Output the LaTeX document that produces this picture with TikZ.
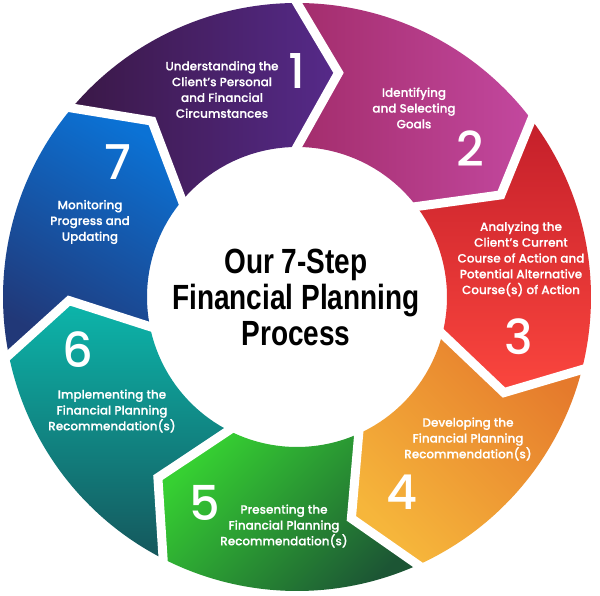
\documentclass[tikz,border=0pt]{standalone}
\usepackage{fontspec}
\usetikzlibrary{calc}
\newfontfamily\stepfont{Poppins Medium}[FakeBold=0.35]
\newfontfamily\numfont{Poppins Medium}
\newfontfamily\centerfont{Liberation Sans}[FakeStretch=0.8]
\definecolor{pua}{HTML}{3A1846}
\definecolor{pub}{HTML}{6C2566}
\definecolor{puc}{HTML}{562A8A}
\definecolor{pka}{HTML}{A32D6C}
\definecolor{pkb}{HTML}{C3489F}
\definecolor{rda}{HTML}{C41F2A}
\definecolor{rdb}{HTML}{FB463E}
\definecolor{ora}{HTML}{E57A2C}
\definecolor{orb}{HTML}{F6B63B}
\definecolor{gra}{HTML}{36D032}
\definecolor{grb}{HTML}{1C5534}
\definecolor{tla}{HTML}{0CB6AB}
\definecolor{tlb}{HTML}{15575C}
\definecolor{bla}{HTML}{0B72D5}
\definecolor{blb}{HTML}{213878}
\def\Ro{294pt}
\def\Ri{150pt}
\def\Rm{228pt}
\def\dl{10.5}
\newcommand\ringseg[3]{%
  \pgfmathsetmacro\tA{#1-\dl}%
  \pgfmathsetmacro\tB{#2-\dl}%
  \shade[#3] (#1:\Ro) arc[start angle=#1, end angle=#2, radius=\Ro]
    -- (\tB:\Rm) -- (#2:\Ri) arc[start angle=#2, end angle=#1, radius=\Ri]
    -- (\tA:\Rm) -- cycle;
}
\newcommand\ringgap[1]{%
  \pgfmathsetmacro\tB{#1-\dl}%
  \draw[white, line width=9pt, line join=miter]
    ($(\tB:\Rm)!1.4!(#1:\Ro)$) -- (#1:\Ro) -- (\tB:\Rm) -- (#1:\Ri)
    -- ($(\tB:\Rm)!1.4!(#1:\Ri)$);
}
\tikzset{
  steptext/.style={text=white, align=center, inner sep=0pt,
    font=\stepfont\fontsize{12}{15.8}\selectfont},
  stepnum/.style={text=white, inner sep=0pt,
    font=\numfont\fontsize{48}{48}\selectfont},
  titletext/.style={text=black, align=center, inner sep=0pt,
    font=\centerfont\bfseries\fontsize{35}{36}\selectfont}
}
\begin{document}
\begin{tikzpicture}[x=1pt,y=1pt]
\useasboundingbox (0,0) rectangle (600,595);
\fill[white] (0,0) rectangle (600,595);
\begin{scope}[shift={(297,298)}]
  \ringseg{140}{90}{left color=pua, middle color=pub, right color=puc}
  \ringseg{90}{37.1}{left color=pka, right color=pkb}
  \ringseg{37.1}{-14.3}{top color=rda, bottom color=rdb}
  \ringseg{-14.3}{-65.7}{top color=ora, bottom color=orb, shading angle=-45}
  \ringseg{-65.7}{-117.1}{top color=gra, bottom color=grb, shading angle=45}
  \ringseg{-117.1}{-168.6}{top color=tla, bottom color=tlb}
  \ringseg{-168.6}{-220}{top color=bla, bottom color=blb, shading angle=-30}
  \ringgap{90}
  \ringgap{37.1}
  \ringgap{-14.3}
  \ringgap{-65.7}
  \ringgap{-117.1}
  \ringgap{-168.6}
  \ringgap{140}
\end{scope}
\node[titletext] (title) at (296,297.5) {Our 7-Step\\Financial Planning\\Process};
\node[steptext] (t1) at (222,505.5) {Understanding the\\Client’s Personal\\and Financial\\Circumstances};
\node[stepnum] (n1) at (297,524) {1};
\node[steptext] (t2) at (414,487) {Identifying\\and Selecting\\Goals};
\node[stepnum] (n2) at (470,446) {2};
\node[steptext] (t3) at (521,336) {Analyzing the\\Client’s Current\\Course of Action and\\Potential Alternative\\Course(s) of Action};
\node[stepnum] (n3) at (519,258) {3};
\node[steptext] (t4) at (468,156) {Developing the\\Financial Planning\\Recommendation(s)};
\node[stepnum] (n4) at (402,103) {4};
\node[steptext] (t5) at (284,69) {Presenting the\\Financial Planning\\Recommendation(s)};
\node[stepnum] (n5) at (205,92) {5};
\node[steptext] (t6) at (112,184) {Implementing the\\Financial Planning\\Recommendation(s)};
\node[stepnum] (n6) at (78,245) {6};
\node[steptext] (t7) at (90,373) {Monitoring\\Progress and\\Updating};
\node[stepnum] (n7) at (118,433) {7};
\end{tikzpicture}
\end{document}
